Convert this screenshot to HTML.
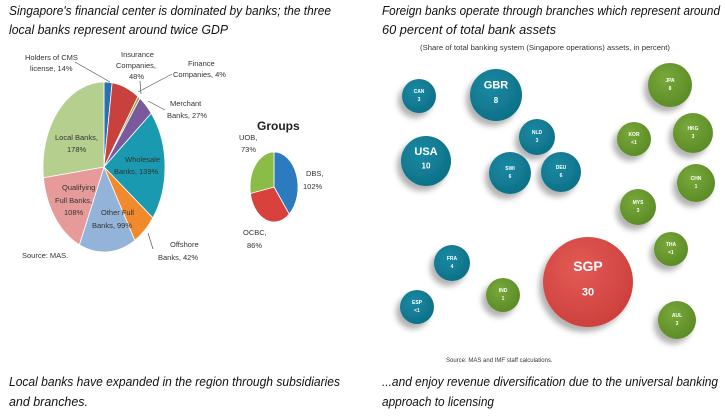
<!DOCTYPE html>
<html><head><meta charset="utf-8"><style>
body{margin:0;background:#fff;}
svg{display:block;font-family:"Liberation Sans",sans-serif;}
.t{font-style:italic;font-size:13px;fill:#111;}
.l{font-size:7.5px;fill:#333;}
.b{fill:#fff;font-weight:bold;text-anchor:middle;}
</style></head><body>
<svg id="c" width="725" height="418" viewBox="0 0 725 418">
<defs>
<radialGradient id="gt" cx="40%" cy="35%" r="70%"><stop offset="0" stop-color="#1a8aa3"/><stop offset="1" stop-color="#0d6f86"/></radialGradient>
<radialGradient id="gg" cx="40%" cy="35%" r="70%"><stop offset="0" stop-color="#79a83a"/><stop offset="1" stop-color="#5a8a25"/></radialGradient>
<radialGradient id="gr" cx="40%" cy="35%" r="70%"><stop offset="0" stop-color="#e35a55"/><stop offset="1" stop-color="#cc3f3c"/></radialGradient>
<filter id="sh" x="-50%" y="-50%" width="200%" height="200%"><feDropShadow dx="-4" dy="5" stdDeviation="3" flood-color="#000" flood-opacity="0.3"/></filter>
</defs>
<text class="t" x="9" y="15" textLength="322" lengthAdjust="spacingAndGlyphs">Singapore's financial center is dominated by banks; the three</text>
<text class="t" x="9" y="34" textLength="219" lengthAdjust="spacingAndGlyphs">local banks represent around twice GDP</text>
<text class="t" x="382" y="15" textLength="338" lengthAdjust="spacingAndGlyphs">Foreign banks operate through branches which represent around</text>
<text class="t" x="382" y="34" textLength="174" lengthAdjust="spacingAndGlyphs">60 percent of total bank assets</text>
<text x="545" y="50" font-size="7" fill="#333" text-anchor="middle" textLength="250" lengthAdjust="spacingAndGlyphs">(Share of total banking system  (Singapore operations) assets, in percent)</text>
<g id="pies"></g>
<g id="bubbles"></g>
<text x="22" y="258" class="l">Source: MAS.</text>
<text x="446" y="362" font-size="6" fill="#333">Source: MAS and IMF staff calculations.</text>
<text class="t" x="9" y="386" textLength="331" lengthAdjust="spacingAndGlyphs">Local banks have expanded in the region through subsidiaries</text>
<text class="t" x="9" y="406" textLength="79" lengthAdjust="spacingAndGlyphs">and branches.</text>
<text class="t" x="382" y="386" textLength="336" lengthAdjust="spacingAndGlyphs">...and enjoy revenue diversification due to the universal banking</text>
<text class="t" x="382" y="406" textLength="112" lengthAdjust="spacingAndGlyphs">approach to licensing</text>
</svg>
<script>
const pieCats=["Holders of CMS license","Insurance Companies","Finance Companies","Merchant Banks","Wholesale Banks","Offshore Banks","Other Full Banks","Qualifying Full Banks","Local Banks"];
const pieVals=[14,48,4,27,139,42,99,108,178];
const pieColors=["#2a6fb0","#c9413d","#8aae45","#7a5a9c","#1a9ab0","#f08a2c","#94b3d9","#e79a9a","#b5d08e"];
const grpCats=["DBS","OCBC","UOB"];
const grpVals=[102,86,73];
const grpColors=["#2c7bbf","#d9413d","#8cbc48"];
const bubNames=["CAN","GBR","USA","NLD","SWI","DEU","FRA","ESP","JPA","KOR","HKG","CHN","MYS","THA","IND","AUL","SGP"];
const bubVals=["3","8","10","3","6","6","4","<1","8","<1","3","1","3","<1","1","3","30"];
const bubGroup=["t","t","t","t","t","t","t","t","g","g","g","g","g","g","g","g","r"];
const NS="http://www.w3.org/2000/svg";
function mk(t,a,p){const e=document.createElementNS(NS,t);for(const k in a)e.setAttribute(k,a[k]);p.appendChild(e);return e;}
function pie(vals,colors,cx,cy,rx,ry,name,cats){
  const g=document.getElementById('pies');const tot=vals.reduce((a,b)=>a+b,0);let a0=-Math.PI/2;
  vals.forEach((v,i)=>{const a1=a0+v/tot*2*Math.PI;
    const x0=cx+rx*Math.cos(a0),y0=cy+ry*Math.sin(a0),x1=cx+rx*Math.cos(a1),y1=cy+ry*Math.sin(a1);
    const p=mk('path',{d:`M${cx},${cy}L${x0},${y0}A${rx},${ry} 0 ${a1-a0>Math.PI?1:0} 1 ${x1},${y1}Z`,fill:colors[i],stroke:'#fff','stroke-width':0.8},g);
    
    
    a0=a1;});
}
pie(pieVals,pieColors,104,167,61,85,'banks',pieCats);
pie(grpVals,grpColors,274,187,24,35,'groups',grpCats);
const g=document.getElementById('pies');
const labs=[["Holders of CMS",25,60],["license, 14%",30,71],["Insurance",121,57],["Companies,",116,68],["48%",129,79],["Finance",188,66],["Companies, 4%",173,77],["Merchant",170,106],["Banks, 27%",167,118],["Local Banks,",55,140],["178%",67,152],["Wholesale",125,162],["Banks, 139%",114,174],["Qualifying",62,190],["Full Banks,",55,203],["108%",64,215],["Other  Full",101,215],["Banks, 99%",92,228],["Offshore",170,247],["Banks, 42%",158,260],["UOB,",239,140],["73%",241,152],["DBS,",306,176],["102%",303,189],["OCBC,",243,235],["86%",247,248]];
labs.forEach(l=>{const t=mk('text',{x:l[1],y:l[2],class:'l'},g);t.textContent=l[0];

});
const gt=mk('text',{x:257,y:130,'font-size':12,'font-weight':'bold',fill:'#222'},g);gt.textContent='Groups';


[[75,62,110,82],[140,81,141,94],[172,74,138,92],[165,110,148,101],[148,233,153,249]].forEach(s=>{const ln=mk('line',{x1:s[0],y1:s[1],x2:s[2],y2:s[3],stroke:'#555','stroke-width':0.7},g);

});
const pos=[[419,96,17],[496,95,26],[426,161,25],[537,137,18],[510,173,21],[561,172,20],[452,263,18],[417,307,17],[670,85,22],[634,139,17],[693,133,20],[696,183,19],[638,207,18],[671,249,17],[503,295,17],[677,320,19],[588,282,45]];
const bg=document.getElementById('bubbles');
bubNames.forEach((n,i)=>{const [x,y,r]=pos[i];const gr=mk('g',{},bg);
  
  
  mk('circle',{cx:x,cy:y,r:r,fill:'url(#g'+bubGroup[i]+')',filter:'url(#sh)'},gr);
  const fs=r>40?14:r>23?11:5;
  const t1=mk('text',{x:x,y:y-(r>23?r*0.25:3),class:'b','font-size':fs},gr);t1.textContent=n;
  const t2=mk('text',{x:x,y:y+(r>23?r*0.3:5),class:'b','font-size':r>40?11:r>23?8:5},gr);t2.textContent=bubVals[i];
});
</script>
</body></html>
